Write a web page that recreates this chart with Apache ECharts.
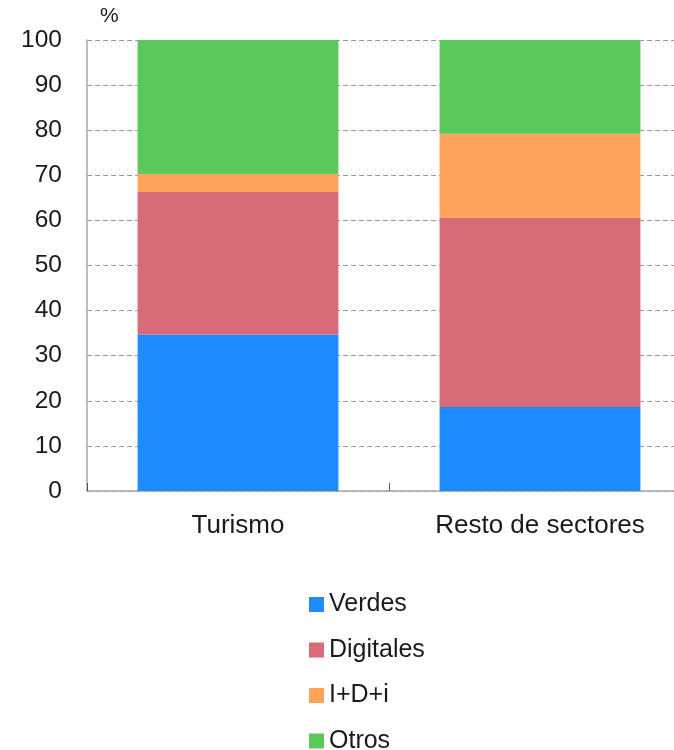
<!DOCTYPE html>
<html>
<head>
<meta charset="utf-8">
<script src="https://cdn.jsdelivr.net/npm/echarts@6/dist/echarts.min.js"></script>
<style>
html,body{margin:0;padding:0;background:#fff;}
#chart{width:674px;height:750px;}
</style>
</head>
<body>
<div id="chart"></div>
<script>
const categories = ['Turismo', 'Resto de sectores'];
const seriesNames = ['Verdes', 'Digitales', 'I+D+i', 'Otros'];
const verdes = [34.7, 18.6];
const digitales = [31.6, 42.0];
const idi = [4.0, 18.6];
const otros = [29.7, 20.8];
const yTicks = [0, 10, 20, 30, 40, 50, 60, 70, 80, 90, 100];
const colors = ['#1E8CFF', '#D96B78', '#FFA35C', '#5BC85C'];

const values = [verdes, digitales, idi, otros];
const font = 'Liberation Sans, Arial, Helvetica, sans-serif';

const chart = echarts.init(document.getElementById('chart'), null, {renderer: 'canvas'});
chart.setOption({
  animation: false,
  textStyle: {fontFamily: font},
  grid: {left: 87, width: 604, top: 40, height: 451, containLabel: false, outerBoundsMode: 'none'},
  legend: {
    orient: 'vertical',
    left: 309,
    top: 592,
    height: 200,
    padding: 0,
    itemWidth: 15,
    itemHeight: 15,
    itemGap: 20.5,
    icon: 'rect',
    textStyle: {fontSize: 25, color: '#1a1a1a', fontFamily: font},
    data: seriesNames
  },
  xAxis: {
    type: 'category',
    data: categories,
    axisLine: {lineStyle: {color: '#aaa', width: 1.5}},
    axisTick: {show: true, alignWithLabel: false, inside: true, length: 8, lineStyle: {color: '#555'}, interval: 0},
    axisLabel: {fontSize: 26, color: '#1a1a1a', margin: 22, fontFamily: font},
    splitLine: {show: false}
  },
  yAxis: {
    type: 'value',
    min: 0,
    max: 100,
    interval: 10,
    name: '%',
    nameLocation: 'end',
    nameGap: 13,
    nameTextStyle: {fontSize: 21, color: '#1a1a1a', align: 'left', padding: [0, 0, 0, 13], fontFamily: font},
    axisLine: {show: true, lineStyle: {color: '#aaa', width: 1.5}},
    axisTick: {show: false},
    axisLabel: {fontSize: 24.5, color: '#1a1a1a', margin: 25, fontFamily: font,
      formatter: v => yTicks.includes(v) ? String(v) : ''},
    splitLine: {show: true, lineStyle: {color: '#999', type: [5, 3], width: 1}}
  },
  series: seriesNames.map((n, i) => ({
    name: n,
    type: 'bar',
    stack: 'total',
    barWidth: '66.5%',
    itemStyle: {color: colors[i]},
    data: values[i]
  }))
});
</script>
</body>
</html>
